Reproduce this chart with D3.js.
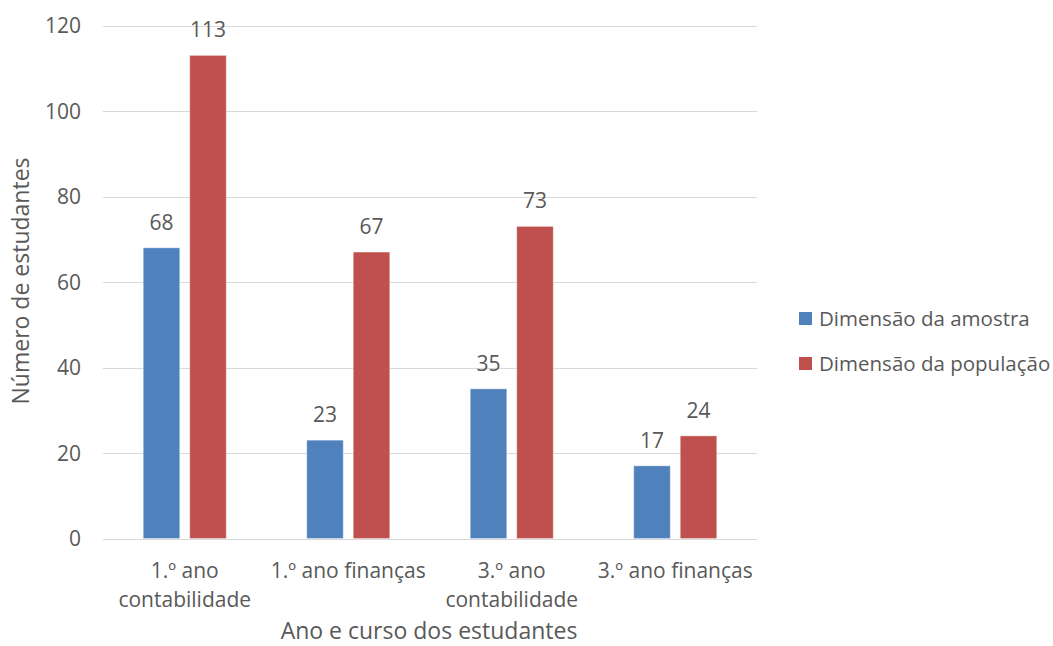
<!DOCTYPE html>
<html>
<head>
<meta charset="utf-8">
<script src="https://cdn.jsdelivr.net/npm/d3@7"></script>
<style>
  html, body { margin: 0; padding: 0; background: #fff; }
  svg text { font-family: "Open Sans", "Noto Sans", sans-serif; fill: #595959; }
</style>
</head>
<body>
<svg id="chart" width="1053" height="646"></svg>
<script>
// Data
const categories = ["1.º ano contabilidade", "1.º ano finanças", "3.º ano contabilidade", "3.º ano finanças"];
const seriesNames = ["Dimensão da amostra", "Dimensão da população"];
const amostra = [68, 23, 35, 17];
const populacao = [113, 67, 73, 24];
const yTicks = [0, 20, 40, 60, 80, 100, 120];
const colors = ["#4F81BD", "#C0504D"];

const svg = d3.select("#chart");
const plot = { left: 103, right: 757, top: 25.5, bottom: 538.5 };

const x = d3.scaleBand().domain(categories).range([plot.left, plot.right]).paddingInner(0).paddingOuter(0);
const x1 = d3.scaleBand().domain(seriesNames).range([0, 83]).paddingInner(0.215);
const y = d3.scaleLinear().domain([0, 120]).range([plot.bottom, plot.top]);

// Gridlines
svg.append("g").selectAll("line").data(yTicks).join("line")
  .attr("x1", plot.left).attr("x2", plot.right)
  .attr("y1", d => Math.round(y(d)) + 0.5).attr("y2", d => Math.round(y(d)) + 0.5)
  .attr("stroke", "#d9d9d9").attr("stroke-width", 1);

// Y axis labels
const yAxis = d3.axisLeft(y).tickValues(yTicks).tickSize(0).tickPadding(0);
const yg = svg.append("g").attr("transform", `translate(81,0)`).call(yAxis);
yg.select(".domain").remove();
yg.selectAll("text").attr("font-size", 21).attr("dy", "0.35em")
  .style("font-family", "'Open Sans', sans-serif").style("fill", "#595959");

// Bars
const rows = categories.map((c, i) => ({ cat: c, vals: [amostra[i], populacao[i]] }));
const groups = svg.append("g").selectAll("g").data(rows).join("g")
  .attr("transform", d => `translate(${x(d.cat) + (x.bandwidth() - 83) / 2},0)`);

groups.selectAll("rect").data(d => d.vals.map((v, j) => ({ v, s: seriesNames[j], j }))).join("rect")
  .attr("x", d => x1(d.s)).attr("width", x1.bandwidth())
  .attr("y", d => y(d.v)).attr("height", d => y(0) - y(d.v))
  .attr("fill", d => colors[d.j])
  .attr("stroke", "#ffffff").attr("stroke-opacity", 0.35).attr("stroke-width", 1);

groups.selectAll("text.val").data(d => d.vals.map((v, j) => ({ v, s: seriesNames[j], j }))).join("text")
  .attr("class", "val")
  .attr("x", d => x1(d.s) + x1.bandwidth() / 2)
  .attr("y", d => y(d.v) - 18)
  .attr("text-anchor", "middle").attr("font-size", 21)
  .text(d => d.v);

// X axis category labels, wrapped to the band width
const xg = svg.append("g");
categories.forEach(c => {
  const t = xg.append("text").attr("text-anchor", "middle").attr("font-size", 21)
    .attr("x", x(c) + x.bandwidth() / 2).attr("y", 578);
  const words = c.split(" ");
  let line = [], lines = [];
  const probe = xg.append("text").attr("font-size", 21);
  words.forEach(w => {
    const test = line.concat(w).join(" ");
    probe.text(test);
    if (probe.node().getComputedTextLength() > x.bandwidth() - 4 && line.length) {
      lines.push(line.join(" "));
      line = [w];
    } else line.push(w);
  });
  lines.push(line.join(" "));
  probe.remove();
  lines.forEach((l, i) => t.append("tspan").attr("x", x(c) + x.bandwidth() / 2).attr("dy", i ? 29 : 0).text(l));
});

// Axis titles
svg.append("text").attr("x", 429).attr("y", 639)
  .attr("text-anchor", "middle").attr("font-size", 23).text("Ano e curso dos estudantes");
svg.append("text").attr("transform", "translate(29,281) rotate(-90)")
  .attr("text-anchor", "middle").attr("font-size", 23).text("Número de estudantes");

// Legend
const lg = svg.append("g").attr("transform", "translate(799,312)");
seriesNames.forEach((s, i) => {
  lg.append("rect").attr("x", 0).attr("y", i * 45).attr("width", 13).attr("height", 13).attr("fill", colors[i]);
  lg.append("text").attr("x", 20).attr("y", i * 45 + 14).attr("font-size", 20.5).text(s);
});
</script>
</body>
</html>
